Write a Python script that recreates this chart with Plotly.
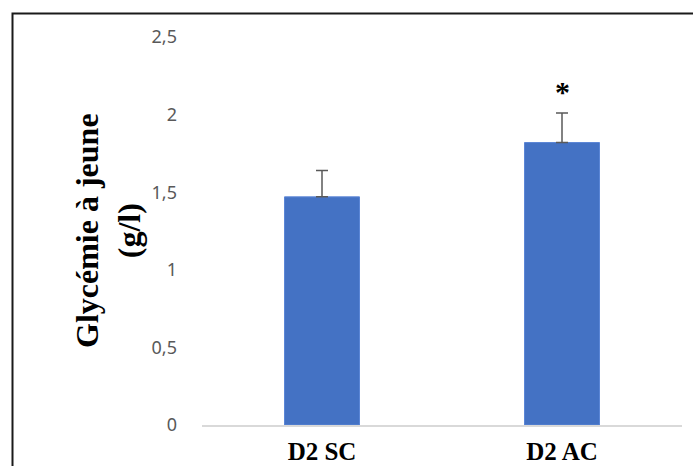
import plotly.graph_objects as go

categories = ["D2 SC", "D2 AC"]
means = [1.47, 1.82]
errors = [0.17, 0.19]
significance = ["", "*"]
y_ticks = [0, 0.5, 1, 1.5, 2, 2.5]
y_title = "Glycémie à jeune<br>(g/l)"

fig = go.Figure()
fig.add_trace(go.Bar(
    x=categories, y=means,
    marker=dict(color="#4472C4", line=dict(color="#5b86d6", width=1)),
    error_y=dict(type="data", array=errors, symmetric=False, arrayminus=[0, 0],
                 color="#595959", thickness=1.5, width=6),
    showlegend=False,
))

for c, m, e, s in zip(categories, means, errors, significance):
    if s:
        fig.add_annotation(x=c, y=m + e, text="<b>" + s + "</b>", showarrow=False,
                           yanchor="bottom", yshift=3,
                           font=dict(family="Liberation Serif", size=30, color="black"))

W, H = 693, 466
L, R, T, B = 202, 11, 37, 41
pw, ph = W - L - R, H - T - B

def px_to_paper_x(px):
    return (px - L) / pw

def px_to_paper_y(py):
    return (H - B - py) / ph

fig.add_annotation(xref="paper", yref="paper", x=px_to_paper_x(108), y=0.5,
                   text="<b>" + y_title + "</b>", textangle=-90, showarrow=False,
                   xanchor="center", yanchor="middle",
                   font=dict(family="Liberation Serif", size=32, color="black"))

fig.add_shape(type="rect", xref="paper", yref="paper",
              x0=px_to_paper_x(12.5), x1=px_to_paper_x(720),
              y0=px_to_paper_y(500), y1=px_to_paper_y(13.5),
              line=dict(color="#1a1a1a", width=2), layer="above")

fig.update_layout(
    width=W, height=H,
    margin=dict(l=L, r=R, t=T, b=B, autoexpand=False),
    paper_bgcolor="white", plot_bgcolor="white",
    separators=", ",
    bargap=0.6875,
    yaxis=dict(range=[0, 2.5], tickvals=y_ticks, showgrid=False, zeroline=False,
               showline=False, ticks="", ticklabelstandoff=24, automargin=False,
               tickfont=dict(family="Noto Sans", size=18, color="#595959")),
    xaxis=dict(showline=True, linecolor="#d9d9d9", linewidth=1.5, showgrid=False,
               ticks="", ticklabelstandoff=3, automargin=False,
               tickfont=dict(family="Liberation Serif", size=25, color="black")),
)
fig.update_xaxes(tickvals=categories, ticktext=["<b>" + c + "</b>" for c in categories])

fig.write_html("out.html")
